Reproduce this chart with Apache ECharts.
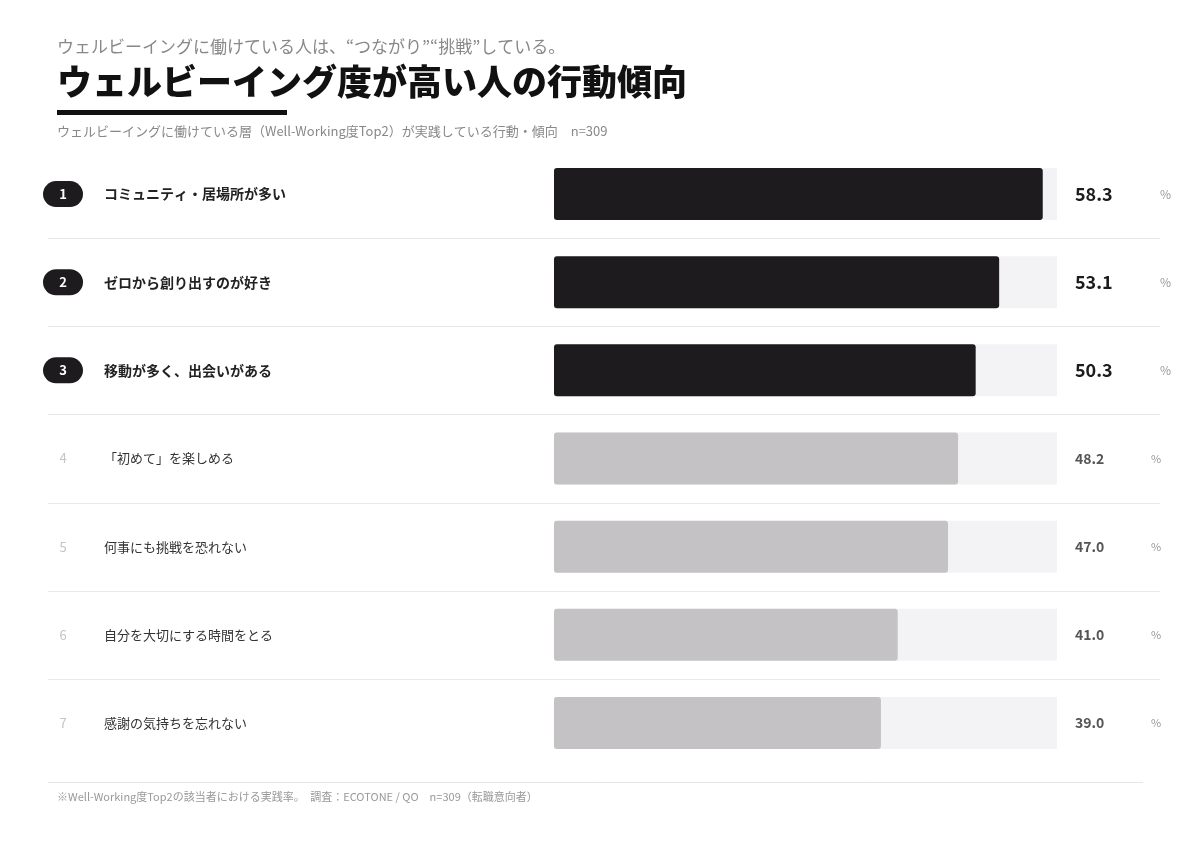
<!DOCTYPE html>
<html>
<head>
<meta charset="utf-8">
<style>
  html, body { margin: 0; padding: 0; background: #fff; }
  #chart { width: 1200px; height: 848px; }
</style>
<script src="https://cdn.jsdelivr.net/npm/echarts@6/dist/echarts.min.js"></script>
</head>
<body>
<div id="chart"></div>
<script>
const FONT = '"Noto Sans CJK JP", "Noto Sans", sans-serif'

// データ
const categories = [
  'コミュニティ・居場所が多い',
  'ゼロから創り出すのが好き',
  '移動が多く、出会いがある',
  '「初めて」を楽しめる',
  '何事にも挑戦を恐れない',
  '自分を大切にする時間をとる',
  '感謝の気持ちを忘れない'
]
const values = [58.3, 53.1, 50.3, 48.2, 47.0, 41.0, 39.0]
const axisMax = 60
const topCount = 3

const chart = echarts.init(document.getElementById('chart'))

const option = {
  backgroundColor: '#fff',
  textStyle: { fontFamily: FONT },
  animation: false,
  grid: { left: 554, right: 143, top: 150, bottom: 81 },
  xAxis: {
    type: 'value',
    min: 0,
    max: axisMax,
    show: false
  },
  yAxis: [
    {
      type: 'category',
      data: categories,
      inverse: true,
      axisLine: { show: false },
      axisTick: { show: false },
      splitLine: { show: false },
      axisLabel: {
        align: 'left',
        margin: 511,
        formatter: (value, index) => {
          return index < topCount
            ? `{b|${index + 1}}{t|${value}}`
            : `{n|${index + 1}}{s|${value}}`
        },
        rich: {
          b: {
            backgroundColor: '#1d1b1e',
            color: '#fff',
            width: 40,
            height: 26,
            borderRadius: 13,
            align: 'center',
            fontSize: 13,
            fontWeight: 'bold',
            fontFamily: FONT
          },
          n: {
            color: '#c4c4c4',
            width: 40,
            align: 'center',
            fontSize: 13,
            fontFamily: FONT
          },
          t: {
            color: '#222',
            fontSize: 14,
            fontWeight: 'bold',
            padding: [0, 0, 0, 21],
            fontFamily: FONT
          },
          s: {
            color: '#333',
            fontSize: 13,
            padding: [0, 0, 0, 21],
            fontFamily: FONT
          }
        }
      }
    },
    {
      type: 'category',
      position: 'right',
      data: values.map(v => v.toFixed(1)),
      inverse: true,
      axisLine: { show: false },
      axisTick: { show: false },
      splitLine: { show: false },
      axisLabel: {
        align: 'left',
        margin: 18,
        formatter: (value, index) => {
          return index < topCount
            ? `{v|${value}}{p|%}`
            : `{w|${value}}{q|%}`
        },
        rich: {
          v: { color: '#1d1b1e', fontSize: 18, fontWeight: 'bold', width: 85, fontFamily: FONT },
          p: { color: '#999', fontSize: 12, fontFamily: FONT },
          w: { color: '#555', fontSize: 14, fontWeight: 'bold', width: 76, fontFamily: FONT },
          q: { color: '#999', fontSize: 11, fontFamily: FONT }
        }
      }
    }
  ],
  series: [
    {
      type: 'bar',
      barWidth: 52,
      showBackground: true,
      backgroundStyle: { color: '#f3f2f4' },
      data: values.map((v, i) => ({
        value: v,
        itemStyle: {
          color: i < topCount ? '#1d1b1e' : '#c4c2c5',
          borderRadius: 3
        }
      }))
    }
  ],
  graphic: [
    {
      type: 'text',
      left: 57,
      top: 38,
      style: {
        text: 'ウェルビーイングに働けている人は、“つながり”“挑戦”している。',
        fill: '#888',
        fontSize: 17,
        fontFamily: FONT
      }
    },
    {
      type: 'text',
      left: 57,
      top: 64,
      style: {
        text: 'ウェルビーイング度が高い人の行動傾向',
        fill: '#111',
        fontSize: 35,
        fontWeight: 900,
        fontFamily: FONT
      }
    },
    {
      type: 'rect',
      shape: { x: 57, y: 110, width: 230, height: 5 },
      style: { fill: '#111' }
    },
    {
      type: 'text',
      left: 57,
      top: 125,
      style: {
        text: 'ウェルビーイングに働けている層（Well-Working度Top2）が実践している行動・傾向　n=309',
        fill: '#888',
        fontSize: 13,
        fontFamily: FONT
      }
    },
    {
      type: 'line',
      shape: { x1: 48, y1: 782.5, x2: 1143, y2: 782.5 },
      style: { stroke: '#e6e6e6', lineWidth: 1 }
    },
    {
      type: 'text',
      left: 57,
      top: 791,
      style: {
        text: '※Well-Working度Top2の該当者における実践率。　調査：ECOTONE / QO　n=309（転職意向者）',
        fill: '#999',
        fontSize: 11,
        fontFamily: FONT
      }
    }
  ]
}

chart.setOption(option)

// 行の区切り線（カテゴリ軸から位置を算出）
const seps = []
for (let i = 0; i < categories.length - 1; i++) {
  const y0 = chart.convertToPixel({ yAxisIndex: 0 }, i)
  const y1 = chart.convertToPixel({ yAxisIndex: 0 }, i + 1)
  const y = Math.round((y0 + y1) / 2) + 0.5
  seps.push({
    type: 'line',
    shape: { x1: 48, y1: y, x2: 1160, y2: y },
    style: { stroke: '#e8e8e8', lineWidth: 1 }
  })
}
chart.setOption({ graphic: option.graphic.concat(seps) })
</script>
</body>
</html>
